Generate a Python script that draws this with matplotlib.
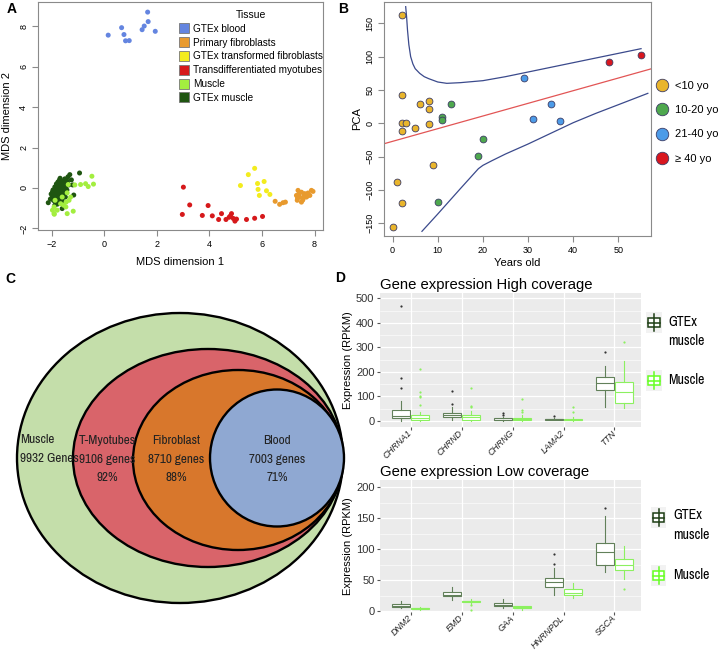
import matplotlib
matplotlib.use('Agg')
import matplotlib.pyplot as plt
import matplotlib.font_manager as fm
from matplotlib.patches import Ellipse, Rectangle
from matplotlib.lines import Line2D
import numpy as np

plt.rcParams['font.family'] = ['Liberation Sans', 'DejaVu Sans']

# ---------------- DATA ----------------
# Panel A: MDS
tissues = ["GTEx blood", "Primary fibroblasts", "GTEx transformed fibroblasts",
           "Transdifferentiated myotubes", "Muscle", "GTEx muscle"]
blood_x = [0.15, 0.66, 0.75, 0.81, 0.95, 1.44, 1.52, 1.67, 1.65, 1.94]
blood_y = [7.56, 7.93, 7.59, 7.28, 7.29, 7.83, 8.01, 8.23, 8.70, 7.75]
primfib_x = [6.50, 6.67, 6.80, 6.89, 7.31, 7.34, 7.43, 7.50, 7.56, 7.62, 7.69, 7.75, 7.82, 7.88,
             7.94, 7.37, 7.50, 7.40, 7.60, 7.72, 7.35, 7.55]
primfib_y = [-0.66, -0.81, -0.73, -0.70, -0.37, -0.61, -0.45, -0.21, -0.53, -0.28, -0.45, -0.25,
             -0.37, -0.12, -0.17, -0.12, -0.70, -0.30, -0.38, -0.40, -0.50, -0.60]
transfib_x = [5.18, 5.48, 5.72, 5.83, 5.85, 5.90, 6.08, 6.17, 6.30]
transfib_y = [0.12, 0.66, 0.97, 0.22, -0.07, -0.37, 0.32, -0.14, -0.32]
myot_x = [3.01, 2.97, 3.25, 3.73, 3.95, 4.11, 4.35, 4.46, 4.63, 4.75, 4.84, 4.91, 4.97, 5.03,
          5.41, 5.72, 6.02, 4.80]
myot_y = [0.04, -1.31, -0.84, -1.36, -0.87, -1.38, -1.56, -1.27, -1.56, -1.45, -1.27, -1.51,
          -1.64, -1.54, -1.56, -1.50, -1.41, -1.38]
muscle_x = [-0.47, -0.41, -0.61, -0.71, -0.90, -1.12, -1.37, -1.41, -1.28, -1.34, -1.46, -1.41,
            -1.18, -1.66, -1.79, -1.91, -1.91, -1.97, -1.87, -1.60, -1.90, -1.45, -1.55]
muscle_y = [0.58, 0.19, 0.07, 0.21, 0.17, 0.15, 0.17, -0.24, -0.45, -0.61, -0.94, -1.27,
            -1.15, -0.78, -1.10, -1.27, -0.94, -1.10, -0.61, -0.45, -1.30, -0.70, -0.85]
gtexm_x = [-2.13, -2.05, -2.02, -1.98, -1.95, -1.93, -1.90, -1.88, -1.86, -1.85, -1.83, -1.82,
           -1.80, -1.79, -1.78, -1.76, -1.75, -1.74, -1.72, -1.71, -1.70, -1.69, -1.68, -1.66,
           -1.65, -1.64, -1.62, -1.60, -1.58, -1.56, -1.55, -1.52, -1.50, -1.48, -1.45, -1.42,
           -1.40, -1.38, -1.35, -1.31, -1.25, -1.20, -1.16, -0.94, -1.60, -1.90, -1.85, -1.80,
           -1.75, -1.70, -1.65, -1.60, -1.55, -1.87, -1.77, -1.67, -1.57, -1.97, -1.92, -1.82,
           -1.72, -1.62, -1.52, -1.47, -1.44, -1.68, -1.78, -1.88]
gtexm_y = [-0.73, -0.55, -0.30, -0.45, -0.10, -0.62, -0.25, 0.05, -0.40, -0.70, -0.15, 0.20,
           -0.50, -0.32, 0.00, 0.30, -0.20, -0.60, 0.10, -0.40, 0.40, -0.05, -0.28, 0.20,
           -0.55, -0.15, 0.35, -0.35, 0.05, -0.75, 0.25, -0.20, 0.45, -0.45, 0.10, -0.10,
           0.30, 0.55, 0.15, 0.66, 0.40, 0.15, -0.35, 0.74, -1.02, -0.35, -0.05, 0.12,
           -0.45, -0.15, 0.05, -0.60, -0.05, -0.55, -0.10, -0.40, 0.15, -0.20, -0.50, -0.30,
           -0.25, -0.10, 0.30, -0.25, 0.42, 0.48, -0.80, -0.85]

# Panel B: PCA vs age
age_groups = ["<10 yo", "10-20 yo", "21-40 yo", "\u2265 40 yo"]
g1_age = [2, 2, 2, 3, 2, 5, 6, 8, 8, 8, 9, 1, 2, 0]
g1_pca = [163, 43, 1, 1, -11, -7, 29, 33, 21, -1, -63, -88, -119, -156]
g2_age = [11, 11, 13, 20, 19, 10]
g2_pca = [9, 5, 29, -24, -49, -118]
g3_age = [29, 31, 35, 37]
g3_pca = [68, 6, 29, 3]
g4_age = [48, 55]
g4_pca = [92, 102]
fit_intercept = -27.0
fit_slope = 1.9
upper_x = [2.9, 3.1, 3.3, 3.6, 4.0, 4.5, 5.0, 6.0, 7.0, 8.0, 10.0, 12.0, 15.0, 20.0, 25.0, 30.0,
           35.0, 40.0, 45.0, 50.0, 55.0]
upper_y = [175, 160, 140, 118, 100, 89, 82, 75, 70, 67, 62, 60, 61, 64, 70, 77, 84, 91, 98, 105, 112]
lower_x = [6.5, 10, 15, 19, 20, 22, 25, 30, 35, 40, 45, 50, 56.5]
lower_y = [-162, -136, -98, -68, -63, -56, -46, -31, -15, 1, 15, 28, 45]

# Panel C: nested gene sets
venn_labels = ["Muscle\n9932 Genes", "T-Myotubes\n9106 genes\n92%",
               "Fibroblast\n8710 genes\n88%", "Blood\n7003 genes\n71%"]

# Panel D: boxplots
genes_high = ["CHRNA1", "CHRND", "CHRNG", "LAMA2", "TTN"]
hi_gtex_med = [20, 22, 4, 7, 154]
hi_gtex_q1 = [10, 15, 2, 5, 126]
hi_gtex_q3 = [43, 33, 10, 9, 180]
hi_gtex_lo = [0, 2, 0, 2, 56]
hi_gtex_hi = [83, 58, 15, 12, 224]
hi_gtex_out = [[134, 176, 469], [69, 123], [25, 32], [21], [281]]
hi_mus_med = [13, 15, 6, 5, 118]
hi_mus_q1 = [5, 5, 2, 2, 72]
hi_mus_q3 = [22, 24, 13, 9, 159]
hi_mus_lo = [0, 0, 0, 0, 54]
hi_mus_hi = [35, 40, 25, 15, 244]
hi_mus_out = [[64, 96, 100, 117, 213], [55, 62, 136], [35, 45, 88], [38, 56], [323]]

genes_low = ["DNM2", "EMD", "GAA", "HNRNPDL", "SGCA"]
lo_gtex_med = [9, 26.5, 11, 47, 95.6]
lo_gtex_q1 = [7.4, 24.5, 8.5, 39, 75]
lo_gtex_q3 = [12.2, 32, 13.3, 54, 111]
lo_gtex_lo = [6, 19, 5, 27, 63]
lo_gtex_hi = [16, 40, 20, 70, 154]
lo_gtex_out = [[], [], [], [77, 92.5], [167]]
lo_mus_med = [5, 16, 7, 29.3, 75]
lo_mus_q1 = [4, 15, 6, 26, 66.6]
lo_mus_q3 = [6, 17, 8, 35.5, 85]
lo_mus_lo = [2, 12, 3, 21, 52]
lo_mus_hi = [7, 20, 9, 45, 106]
lo_mus_out = [[], [10.7, 2.7], [], [], [35.5]]

# ---------------- fonts ----------------
def find_narrow():
    cands = []
    for f in fm.fontManager.ttflist:
        fn = f.fname.lower()
        nm = f.name.lower()
        if f.style != 'normal' or f.weight not in (400, 'normal', 'regular'):
            continue
        if 'mono' in nm or 'serif' in nm and 'sans' not in nm:
            continue
        if 'narrow' in nm or 'narrow' in fn:
            cands.append((0, f.fname))
        elif 'condensed' in fn or 'condensed' in nm or f.stretch in ('condensed', 'semi-condensed'):
            if 'semi' in fn or 'extra' in fn or 'ultra' in fn:
                cands.append((2, f.fname))
            else:
                cands.append((1, f.fname))
    cands.sort()
    return cands[0][1] if cands else None


NARROW_FILE = find_narrow()


def nfont(size):
    if NARROW_FILE:
        return fm.FontProperties(fname=NARROW_FILE, size=size)
    return fm.FontProperties(family=['Liberation Sans', 'DejaVu Sans'], size=size * 0.82)


# ---------------- FIGURE ----------------
W, H = 726, 652
fig = plt.figure(figsize=(W / 100, H / 100), dpi=100)


def px_axes(l, t, r, b):
    return fig.add_axes([l / W, 1 - b / H, (r - l) / W, (b - t) / H])


SPINE = '#8a8a8a'

# ---- Panel A ----
axA = px_axes(38, 2, 323, 230)
colA = ['#6485E0', '#E89A2E', '#F3EC1E', '#D6191B', '#A3EE3F', '#1F5511']
axA.scatter(blood_x, blood_y, s=13, c=colA[0], edgecolors='none')
axA.scatter(primfib_x, primfib_y, s=13, c=colA[1], edgecolors='none')
axA.scatter(transfib_x, transfib_y, s=13, c=colA[2], edgecolors='none')
axA.scatter(myot_x, myot_y, s=13, c=colA[3], edgecolors='none')
axA.scatter(gtexm_x, gtexm_y, s=13, c=colA[5], edgecolors='none')
axA.scatter(muscle_x, muscle_y, s=13, c=colA[4], edgecolors='none')
axA.set_xlim(-2.52, 8.32)
axA.set_ylim(-2.08, 9.2)
axA.set_xticks([-2, 0, 2, 4, 6, 8])
axA.set_yticks([-2, 0, 2, 4, 6, 8])
axA.tick_params(labelsize=6.5, length=4, color=SPINE, pad=3)
for lab in axA.get_yticklabels():
    lab.set_rotation(90)
    lab.set_va('center')
for s in axA.spines.values():
    s.set_color(SPINE)
axA.set_xlabel("MDS dimension 1", fontsize=8, labelpad=6)
axA.set_ylabel("MDS dimension 2", fontsize=8, labelpad=5)
hA = [Line2D([], [], marker='s', ls='none', ms=6.5, mfc=c, mec='#777777', mew=0.6) for c in colA]
legA = axA.legend(hA, tissues, title="Tissue", loc='upper left',
                  bbox_to_anchor=((171 - 38) / 285, 1.0), frameon=False, fontsize=7.2,
                  title_fontsize=7.5, labelspacing=0.38, handletextpad=0.4, borderpad=0.3,
                  handlelength=1.0)

# ---- Panel B ----
axB = px_axes(384, 2, 651, 236)
colB = ['#E9B52C', '#4EA84E', '#4C9BE8', '#D9161E']
edgeB = '#3c3c64'
axB.plot(upper_x, upper_y, color='#3b4a8c', lw=0.9)
axB.plot(lower_x, lower_y, color='#3b4a8c', lw=0.9)
axB.axline((0, fit_intercept), slope=fit_slope, color='#e25555', lw=0.9)
for xs, ys, c in [(g1_age, g1_pca, colB[0]), (g2_age, g2_pca, colB[1]),
                  (g3_age, g3_pca, colB[2]), (g4_age, g4_pca, colB[3])]:
    axB.scatter(xs, ys, s=24, c=c, edgecolors=edgeB, linewidths=0.6, zorder=3)
axB.set_xlim(-1.9, 57.2)
axB.set_ylim(-169, 182)
axB.set_xticks([0, 10, 20, 30, 40, 50])
axB.set_yticks([-150, -100, -50, 0, 50, 100, 150])
axB.tick_params(labelsize=6.5, length=4, color=SPINE, pad=3)
for lab in axB.get_yticklabels():
    lab.set_rotation(90)
    lab.set_va('center')
for s in axB.spines.values():
    s.set_color(SPINE)
axB.set_xlabel("Years old", fontsize=8, labelpad=2)
axB.set_ylabel("PCA", fontsize=8, labelpad=2)
hB = [Line2D([], [], marker='o', ls='none', ms=9, mfc=c, mec=edgeB, mew=0.6) for c in colB]
axB.legend(hB, age_groups, loc='upper left', bbox_to_anchor=(0.995, 0.688), frameon=False,
           fontsize=8, labelspacing=1.3, handletextpad=0.6, handlelength=1.2, borderpad=0)

# ---- Panel C ----
axC = px_axes(0, 290, 360, 652)
axC.set_xlim(0, 360)
axC.set_ylim(652, 290)
axC.axis('off')
ell_geom = [(180, 458, 326, 290), (208, 458, 270, 218), (238, 460, 210, 180), (277, 458, 134, 137)]
ell_cols = ['#C4DEAA', '#D9646A', '#D8772C', '#8FA8D2']
for (cx, cy, w, h), c in zip(ell_geom, ell_cols):
    axC.add_patch(Ellipse((cx, cy), w, h, facecolor=c, edgecolor='black', lw=1.7))
cfp = nfont(9.5)
LS = 1.85
axC.text(20, 449, venn_labels[0], ha='left', va='center', fontproperties=cfp, linespacing=LS,
         color='#222222')
axC.text(107, 459, venn_labels[1], ha='center', va='center', fontproperties=cfp, linespacing=LS,
         color='#222222')
axC.text(176, 459, venn_labels[2], ha='center', va='center', fontproperties=cfp, linespacing=LS,
         color='#222222')
axC.text(277, 459, venn_labels[3], ha='center', va='center', fontproperties=cfp, linespacing=LS,
         color='#222222')

# ---- Panel D ----
GT_EDGE = '#62805a'
MU_EDGE = '#8cf060'
GT_KEY = '#1d3d14'
MU_KEY = '#66ff22'


def box_panel(ax, genes, g_stats, m_stats, yl, major, minor, title):
    ax.set_facecolor('#EBEBEB')
    for v in minor:
        ax.axhline(v, color='white', lw=0.4, zorder=0)
    for v in major:
        ax.axhline(v, color='white', lw=0.9, zorder=0)
    pos = np.arange(1, len(genes) + 1)
    for p in pos:
        ax.axvline(p, color='white', lw=0.9, zorder=0)
    for stats, off, col, fc in [(g_stats, -0.19, GT_EDGE, '#333333'), (m_stats, 0.19, MU_EDGE, MU_EDGE)]:
        med, q1, q3, lo, hi, out = stats
        st = [dict(med=a, q1=b, q3=c, whislo=d, whishi=e, fliers=f)
              for a, b, c, d, e, f in zip(med, q1, q3, lo, hi, out)]
        ax.bxp(st, positions=pos + off, widths=0.36, showcaps=False, patch_artist=True,
               boxprops=dict(facecolor='white', edgecolor=col, linewidth=0.8),
               medianprops=dict(color=col, linewidth=0.8),
               whiskerprops=dict(color=col, linewidth=0.8),
               flierprops=dict(marker='o', markersize=1.6, markerfacecolor=fc,
                               markeredgecolor='none'),
               manage_ticks=False)
    ax.set_xlim(0.4, 5.52)
    ax.set_ylim(*yl)
    ax.set_xticks(pos)
    ax.set_xticklabels(genes, rotation=45, ha='right', va='center', rotation_mode='anchor',
                       style='italic', fontsize=6.4, color='#222222')
    ax.set_yticks(major)
    ax.tick_params(axis='y', labelsize=8, labelcolor='#333333', length=2.5, color='#555555', pad=1.5)
    ax.tick_params(axis='x', length=2.2, color='#555555', pad=1.2)
    for s in ax.spines.values():
        s.set_visible(False)
    ax.set_ylabel("Expression (RPKM)", fontsize=8, labelpad=2)
    ax.set_title(title, fontsize=10.7, loc='left', x=0.0, pad=3)


axD1 = px_axes(380, 293, 641, 427)
box_panel(axD1, genes_high,
          (hi_gtex_med, hi_gtex_q1, hi_gtex_q3, hi_gtex_lo, hi_gtex_hi, hi_gtex_out),
          (hi_mus_med, hi_mus_q1, hi_mus_q3, hi_mus_lo, hi_mus_hi, hi_mus_out),
          (-25, 522), [0, 100, 200, 300, 400, 500], [50, 150, 250, 350, 450],
          "Gene expression High coverage")
axD2 = px_axes(380, 480, 641, 612)
box_panel(axD2, genes_low,
          (lo_gtex_med, lo_gtex_q1, lo_gtex_q3, lo_gtex_lo, lo_gtex_hi, lo_gtex_out),
          (lo_mus_med, lo_mus_q1, lo_mus_q3, lo_mus_lo, lo_mus_hi, lo_mus_out),
          (-1, 212), [0, 50, 100, 150, 200], [25, 75, 125, 175],
          "Gene expression Low coverage")


def legend_key(l, t, r, b, col):
    k = px_axes(l, t, r, b)
    k.set_xlim(0, 1)
    k.set_ylim(0, 1)
    k.axis('off')
    k.add_patch(Rectangle((0, 0), 1, 1, facecolor='#F2F2F2', edgecolor='none'))
    k.plot([0.5, 0.5], [0.08, 0.92], color=col, lw=1.1)
    k.add_patch(Rectangle((0.15, 0.27), 0.7, 0.46, facecolor='white', edgecolor=col, lw=1.1))
    k.plot([0.15, 0.85], [0.5, 0.5], color=col, lw=1.1)


lfp = nfont(10)
legend_key(646, 312, 662, 333, GT_KEY)
legend_key(646, 370, 662, 391, MU_KEY)
fig.text(668 / W, 1 - 322 / H, "GTEx", fontproperties=lfp, va='center')
fig.text(668 / W, 1 - 341 / H, "muscle", fontproperties=lfp, va='center')
fig.text(668 / W, 1 - 380 / H, "Muscle", fontproperties=lfp, va='center')
legend_key(651, 507, 666, 528, GT_KEY)
legend_key(651, 565, 666, 586, MU_KEY)
fig.text(673 / W, 1 - 515 / H, "GTEx", fontproperties=lfp, va='center')
fig.text(673 / W, 1 - 535 / H, "muscle", fontproperties=lfp, va='center')
fig.text(673 / W, 1 - 575 / H, "Muscle", fontproperties=lfp, va='center')

# panel letters
for letter, x, y in [("A", 7, 9), ("B", 338, 9), ("C", 5, 279), ("D", 335, 278)]:
    fig.text(x / W, 1 - y / H, letter, fontsize=10, fontweight='bold', va='center', ha='left')

fig.savefig("out.png", dpi=100)
